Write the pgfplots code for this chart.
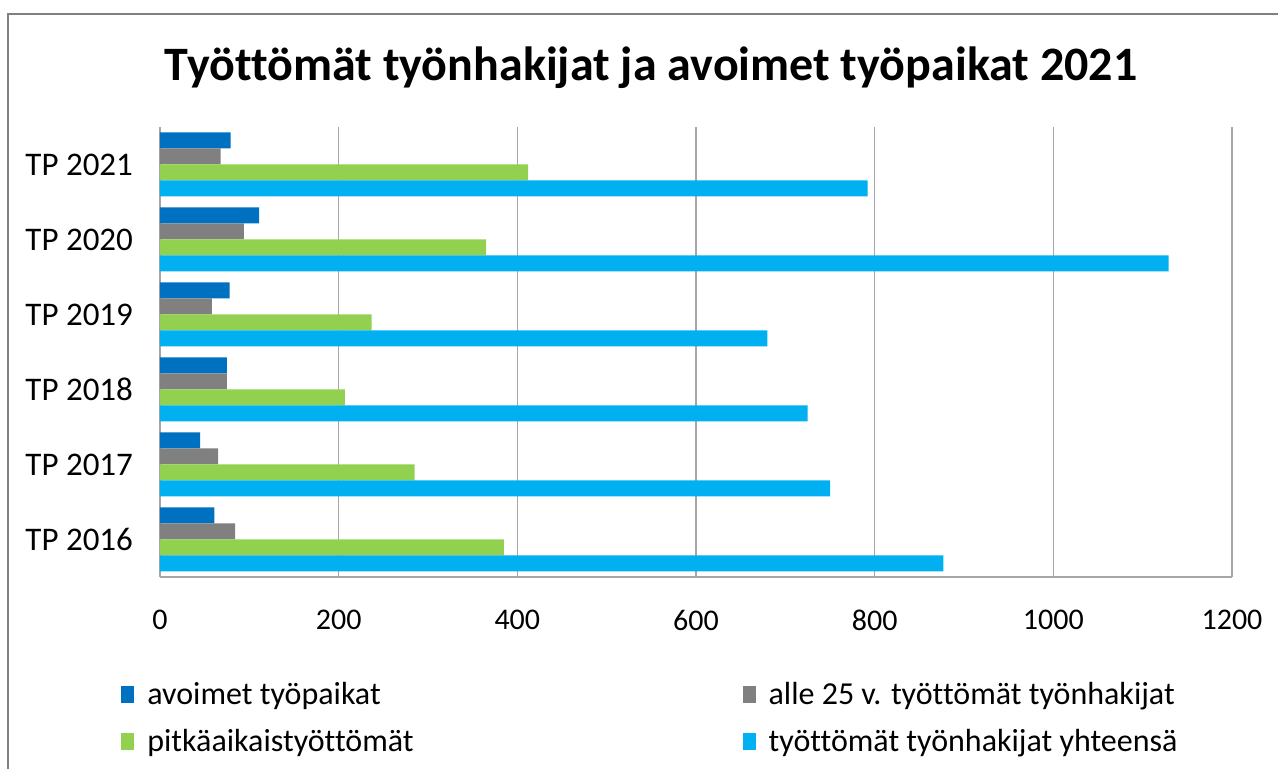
\documentclass[border=0pt]{standalone}
\usepackage{pgfplots}
\pgfplotsset{compat=1.18}
\usepackage{fontspec}
\setmainfont{Carlito}[Ligatures=NoCommon]

\definecolor{cBlue}{HTML}{0070C0}
\definecolor{cGray}{HTML}{808080}
\definecolor{cGreen}{HTML}{92D050}
\definecolor{cCyan}{HTML}{00B0F0}
\definecolor{cLine}{HTML}{A6A6A6}

\begin{document}
\begin{tikzpicture}
% picture area and chart frame (1 px = 0.5 pt)
\path[use as bounding box] (-80pt,-96pt) rectangle (559pt,288.5pt);
\draw[color=gray, line width=1pt] (-75.75pt,-97pt) -- (-75.75pt,281.25pt) -- (560pt,281.25pt);

\begin{axis}[
  at={(0,0)}, anchor=south west,
  scale only axis,
  width=536pt, height=225pt,
  xbar, bar width=8pt,
  xmin=0, xmax=1200,
  ymin=-0.5, ymax=5.5,
  xtick={0,200,...,1200},
  ytick={0,...,5},
  yticklabels={TP 2016,TP 2017,TP 2018,TP 2019,TP 2020,TP 2021},
  axis x line*=bottom, axis y line*=left,
  axis line style={cLine, line width=1pt},
  xmajorgrids, grid style={cLine, line width=0.8pt},
  major tick length=0pt,
  xticklabel style={font=\fontsize{15}{18}\selectfont, yshift=-13pt},
  yticklabel style={font=\fontsize{16.5}{19}\selectfont, xshift=-10pt},
  /pgf/number format/assume math mode=true,
  /pgf/number format/1000 sep={},
  scaled x ticks=false,
  legend columns=2,
  legend image code/.code={\path[#1, draw=none] (0pt,-4.25pt) rectangle (6.5pt,4.25pt);},
  legend style={draw=none, fill=none, inner sep=0pt,
    at={(-0.0364,-0.232)}, anchor=north west,
    font=\fontsize{16}{19}\selectfont, row sep=11pt,
    nodes={inner xsep=6.5pt, inner ysep=0pt},
    /tikz/column 2/.style={column sep=158pt}},
  legend cell align=left,
]
% top to bottom inside each group: blue, gray, green, cyan
\addplot[fill=cBlue, draw=none, bar shift=12pt] coordinates {
  (61,0) (45,1) (75,2) (78,3) (111,4) (79,5)};
\addlegendentry{avoimet työpaikat}
\addplot[fill=cGray, draw=none, bar shift=4pt] coordinates {
  (84,0) (65,1) (75,2) (58,3) (94,4) (68,5)};
\addlegendentry{alle 25 v. työttömät työnhakijat}
\addplot[fill=cGreen, draw=none, bar shift=-4pt] coordinates {
  (385,0) (285,1) (207,2) (237,3) (365,4) (412,5)};
\addlegendentry{pitkäaikaistyöttömät}
\addplot[fill=cCyan, draw=none, bar shift=-12pt] coordinates {
  (877,0) (750,1) (725,2) (680,3) (1129,4) (792,5)};
\addlegendentry{työttömät työnhakijat yhteensä}
\end{axis}

\node[font=\bfseries\fontsize{24}{29}\selectfont] at (245.5pt,254.5pt)
  {Työttömät työnhakijat ja avoimet työpaikat 2021};
\end{tikzpicture}
\end{document}
